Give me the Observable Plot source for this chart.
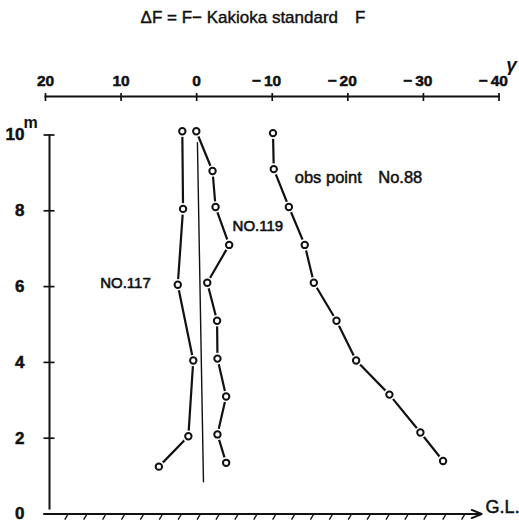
<!DOCTYPE html>
<html>
<head>
<meta charset="utf-8">
<script src="https://cdn.jsdelivr.net/npm/d3@7"></script>
<script src="https://cdn.jsdelivr.net/npm/@observablehq/plot@0.6"></script>
<style>
  html, body { margin: 0; padding: 0; background: #fff; }
  #title { width: 519px; height: 34px; line-height: 36px; box-sizing: border-box; padding-right: 13px;
           text-align: center; font-family: "Liberation Sans", Arial, sans-serif; font-size: 17px; color: #111;
           -webkit-text-stroke: 0.4px #111; }
  #chart svg .xlab text, #chart svg .ylab text {
    font-weight: bold !important; stroke: #111; stroke-width: 0.5px; paint-order: stroke; }
  #chart svg .xlab text { font-size: 15.5px !important; }
  #chart svg .ylab text { font-size: 17px !important; }
</style>
</head>
<body>
<div id="title">ΔF = F− Kakioka standard&#8195;F</div>
<div id="chart"></div>
<script>
// ---- data ----
const xTicks = [20, 10, 0, -10, -20, -30, -40];   // ΔF (γ), reversed axis
const yTicks = [0, 2, 4, 6, 8, 10];                // height (m)
const xDomain = [20, -40];
const yDomain = [0, 10];

const no117H = [10.1, 8.05, 6.05, 4.05, 2.05, 1.25];
const no117F = [1.9, 1.8, 2.5, 0.45, 1.1, 5.0];

const no119H = [10.1, 9.05, 8.1, 7.1, 6.1, 5.1, 4.1, 3.1, 2.1, 1.35];
const no119F = [0.05, -2.1, -2.5, -4.3, -1.4, -2.7, -2.75, -3.9, -2.75, -3.9];

const no88H = [10.05, 9.1, 8.1, 7.1, 6.1, 5.1, 4.05, 3.15, 2.15, 1.4];
const no88F = [-10.1, -10.2, -12.2, -14.3, -15.5, -18.5, -21.1, -25.5, -29.6, -32.6];

const zeroLineH = [9.8, 0.85];
const zeroLineF = [-0.1, -0.9];

const seriesNames = ["NO.117", "NO.119", "obs point\u2003No.88"];
const groundF = [20.2, -37.7];
const hatchF = d3.range(17, -36.5, -2.5);

// ---- tables ----
const toRows = (F, H, s) => F.map((f, i) => ({ f, h: H[i], s }));
const s117 = toRows(no117F, no117H, seriesNames[0]);
const s119 = toRows(no119F, no119H, seriesNames[1]);
const s88 = toRows(no88F, no88H, seriesNames[2]);
const all = [...s117, ...s119, ...s88];
const zeroLine = toRows(zeroLineF, zeroLineH, "zero");

const font = "Liberation Sans, Arial, sans-serif";
const fmtNeg = d => "\u2212\u2009" + Math.abs(d);
const ink = "#111";

const plot = Plot.plot({
  width: 519,
  height: 490,
  marginTop: 62,
  marginLeft: 45,
  marginRight: 20.5,
  marginBottom: 9,
  x: { domain: xDomain },
  y: { domain: yDomain, range: [479.5, 100.5] },
  style: { fontFamily: font, color: ink, background: "white", overflow: "visible" },
  marks: [
    // top axis
    Plot.frame({ anchor: "top", strokeWidth: 2 }),
    Plot.axisX({ anchor: "top", ticks: xTicks, tickSize: 8, dy: 4, fill: "none", label: null, strokeWidth: 1.7 }),
    Plot.axisX({ anchor: "top", ticks: xTicks.filter(d => d >= 0), tickSize: 0, tickPadding: 11, className: "xlab",
                 fontSize: 15.5, fontWeight: "bold", label: null, tickFormat: d => String(d) }),
    Plot.axisX({ anchor: "top", ticks: xTicks.filter(d => d < 0), tickSize: 0, tickPadding: 11, className: "xlab",
                 textAnchor: "end", dx: 9, fontSize: 15.5, fontWeight: "bold", label: null, tickFormat: fmtNeg }),
    Plot.text([{ f: xDomain[1], t: "γ" }], { x: "f", text: "t", frameAnchor: "top", dx: 12.5, dy: -39,
                 fontStyle: "italic", fontWeight: "bold", fontSize: 19, fill: ink }),

    // left axis
    Plot.ruleX([xDomain[0]], { y1: yDomain[0], y2: yDomain[1], dx: 4, insetTop: -4, strokeWidth: 2 }),
    Plot.axisY({ anchor: "left", ticks: yTicks.filter(d => d > 0), tickSize: 11, dx: 9.5, fill: "none",
                 label: null, strokeWidth: 1.7 }),
    Plot.axisY({ anchor: "left", ticks: yTicks, tickSize: 0, tickPadding: 21, fontSize: 17, className: "ylab",
                 fontWeight: "bold", label: null }),
    Plot.text([{ h: yDomain[1], t: "m" }], { y: "h", text: "t", frameAnchor: "left", dx: -22, dy: -12,
                 textAnchor: "start", fontSize: 16, fontWeight: "bold", fill: ink }),

    // ground level
    Plot.link(hatchF, { x1: d => d, x2: d => d + 0.45, y1: 0, y2: -0.15, strokeWidth: 1.4 }),
    Plot.arrow([groundF], { x1: d => d[0], x2: d => d[1], y1: 0, y2: 0, headLength: 8, headAngle: 45, strokeWidth: 2 }),
    Plot.text([groundF], { x: d => d[1], y: 0, text: () => "G.L.", dx: 4, dy: -7, textAnchor: "start", fontSize: 18,
                 fill: ink, stroke: ink, strokeWidth: 0.5 }),

    // reference line
    Plot.line(zeroLine, { x: "f", y: "h", strokeWidth: 1.4 }),

    // series
    Plot.line(all, { x: "f", y: "h", z: "s", strokeWidth: 2.2 }),
    Plot.dot(all, { x: "f", y: "h", r: 5.8, fill: "white", stroke: null }),
    Plot.dot(all, { x: "f", y: "h", r: 3.2, fill: "white", stroke: ink, strokeWidth: 2 }),

    // series labels
    Plot.text([s117[2]], { x: "f", y: "h", text: "s", textAnchor: "end", dx: -27, dy: -2, fontSize: 15,
                 fill: ink, stroke: ink, strokeWidth: 0.6 }),
    Plot.text([s119[2]], { x: "f", y: "h", text: "s", textAnchor: "start", dx: 17, dy: 19, fontSize: 15,
                 fill: ink, stroke: ink, strokeWidth: 0.6 }),
    Plot.text([s88[1]], { x: "f", y: "h", text: "s", textAnchor: "start", dx: 21, dy: 9, fontSize: 16.5,
                 fill: ink, stroke: ink, strokeWidth: 0.5 })
  ]
});
document.getElementById("chart").appendChild(plot);
</script>
</body>
</html>
